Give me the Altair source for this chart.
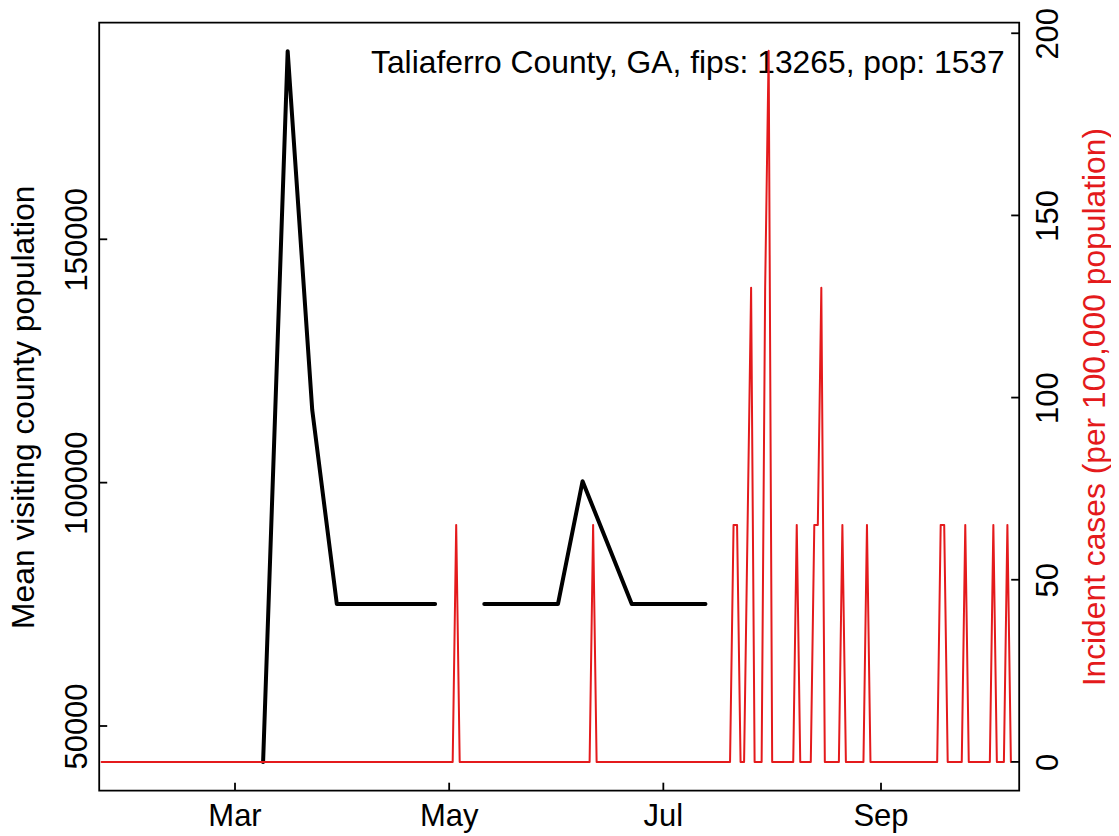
import altair as alt
import pandas as pd

# ---------------- text ----------------
annotation_text = "Taliaferro County, GA, fips: 13265, pop: 1537"
left_title = "Mean visiting county population"
right_title = "Incident cases (per 100,000 population)"

# ---------------- black series: weekly mean visiting county population ----------------
visit_weeks = [
    "2020-03-09", "2020-03-16", "2020-03-23", "2020-03-30", "2020-04-06",
    "2020-04-13", "2020-04-20", "2020-04-27", "2020-05-04", "2020-05-11",
    "2020-05-18", "2020-05-25", "2020-06-01", "2020-06-08", "2020-06-15",
    "2020-06-22", "2020-06-29", "2020-07-06", "2020-07-13",
]
visit_values = [
    42600, 188650, 114900, 75070, 75070,
    75070, 75070, 75070, None, 75070,
    75070, 75070, 75070, 100300, 87690,
    75070, 75070, 75070, 75070,
]

# ---------------- red series: daily incident cases per 100,000 ----------------
case_first_day = "2020-01-23"
case_last_day = "2020-10-08"
spike_days = [
    "2020-05-03", "2020-06-11", "2020-07-21", "2020-07-22", "2020-07-25",
    "2020-07-26", "2020-07-30", "2020-07-31", "2020-08-08", "2020-08-13",
    "2020-08-14", "2020-08-15", "2020-08-21", "2020-08-28", "2020-09-18",
    "2020-09-19", "2020-09-25", "2020-10-03", "2020-10-07",
]
spike_values = [
    65.06, 65.06, 65.06, 65.06, 65.06,
    130.12, 130.12, 195.18, 65.06, 65.06,
    65.06, 130.12, 65.06, 65.06, 65.06,
    65.06, 65.06, 65.06, 65.06,
]

# ---------------- axes ----------------
x_tick_dates = ["2020-03-01", "2020-05-01", "2020-07-01", "2020-09-01"]
x_tick_labels = ["Mar", "May", "Jul", "Sep"]
left_ticks = [50000, 100000, 150000]
right_ticks = [0, 50, 100, 150, 200]

# ---------------- tables ----------------
visit_rows = []
seg = 0
for d, v in zip(visit_weeks, visit_values):
    if v is None:
        seg += 1
        continue
    visit_rows.append({"date": d, "visitors": v, "seg": seg})
visit_df = pd.DataFrame(visit_rows)

day_strings = pd.date_range(case_first_day, case_last_day, freq="D").strftime("%Y-%m-%d")
spikes = dict(zip(spike_days, spike_values))
case_df = pd.DataFrame({"date": list(day_strings),
                        "cases": [spikes.get(d, 0.0) for d in day_strings]})
xtick_df = pd.DataFrame({"date": x_tick_dates, "label": x_tick_labels})


def dt(s, h=0, m=0):
    t = pd.Timestamp(s)
    return alt.DateTime(year=t.year, month=t.month, date=t.day, hours=h, minutes=m, utc=True)


FONT = "Liberation Sans"
FS = 31      # tick labels
FT = 31.8    # titles and annotation
W, H = 920, 768
RED = "#e41a1c"
LW = 1.8

x_scale = alt.Scale(type="utc", domain=[dt("2020-01-22", 7, 42), dt("2020-10-10", 8, 38)], nice=False)
left_scale = alt.Scale(domain=[36708, 194501], nice=False, zero=False)
right_scale = alt.Scale(domain=[-7.9, 202.9], nice=False, zero=False)

left_axis = alt.Axis(
    orient="left", values=left_ticks, format="d",
    ticks=False, tickSize=0, domain=False, grid=False,
    labelFont=FONT, labelFontSize=FS, labelColor="black",
    labelAngle=270, labelAlign="center", labelBaseline="alphabetic", labelPadding=12.5,
    labelOverlap=False,
    title=left_title, titleFont=FONT, titleFontSize=FT, titleFontWeight="normal",
    titleColor="black", titleAngle=270, titleAlign="center", titleBaseline="alphabetic",
    titleX=-65.9, titleY=H / 2,
)
right_axis = alt.Axis(
    orient="right", values=right_ticks, format="d",
    ticks=False, tickSize=0, domain=False, grid=False,
    labelFont=FONT, labelFontSize=FS, labelColor="black",
    labelAngle=270, labelAlign="center", labelBaseline="alphabetic", labelPadding=38.5,
    labelOverlap=False,
    title=right_title, titleFont=FONT, titleFontSize=FT, titleFontWeight="normal",
    titleColor=RED, titleAngle=270, titleAlign="center", titleBaseline="alphabetic",
    titleX=85.3, titleY=H / 2,
)

black = alt.Chart(visit_df).mark_line(
    color="black", strokeWidth=4, strokeJoin="round", strokeCap="round"
).encode(
    x=alt.X("date:T", scale=x_scale, axis=None),
    y=alt.Y("visitors:Q", scale=left_scale, axis=left_axis),
    detail="seg:N",
)

text_layer = alt.Chart(pd.DataFrame({"label": [annotation_text]})).mark_text(
    align="right", baseline="alphabetic", font=FONT, fontSize=FT, color="black"
).encode(x=alt.value(905.5), y=alt.value(50.6), text="label:N")

red = alt.Chart(case_df).mark_line(
    color=RED, strokeWidth=2, strokeJoin="round", strokeCap="round"
).encode(
    x=alt.X("date:T", scale=x_scale, axis=None),
    y=alt.Y("cases:Q", scale=right_scale, axis=right_axis),
)

left_tick_layer = alt.Chart(pd.DataFrame({"v": left_ticks})).mark_rule(
    color="black", strokeWidth=LW
).encode(y=alt.Y("v:Q", scale=left_scale, axis=None), x=alt.value(0), x2=alt.value(8))

right_tick_layer = alt.Chart(pd.DataFrame({"v": right_ticks})).mark_rule(
    color="black", strokeWidth=LW
).encode(y=alt.Y("v:Q", scale=right_scale, axis=None), x=alt.value(W - 8), x2=alt.value(W))

bottom_tick_layer = alt.Chart(xtick_df).mark_rule(
    color="black", strokeWidth=LW
).encode(x=alt.X("date:T", scale=x_scale, axis=None), y=alt.value(H - 8), y2=alt.value(H))

bottom_label_layer = alt.Chart(xtick_df).mark_text(
    align="center", baseline="alphabetic", font=FONT, fontSize=FS, color="black"
).encode(x=alt.X("date:T", scale=x_scale, axis=None), y=alt.value(H + 35), text="label:N")

chart = alt.layer(
    black, text_layer, red, left_tick_layer, right_tick_layer,
    bottom_tick_layer, bottom_label_layer,
).resolve_scale(y="independent").properties(
    width=W, height=H,
    padding={"left": 91.2, "top": 14.7, "right": 91.8, "bottom": 44},
    autosize=alt.AutoSizeParams(type="none"),
    background="white",
).configure_view(stroke="black", strokeWidth=LW)

chart.save("out.html", embed_options={"renderer": "svg", "actions": False})
